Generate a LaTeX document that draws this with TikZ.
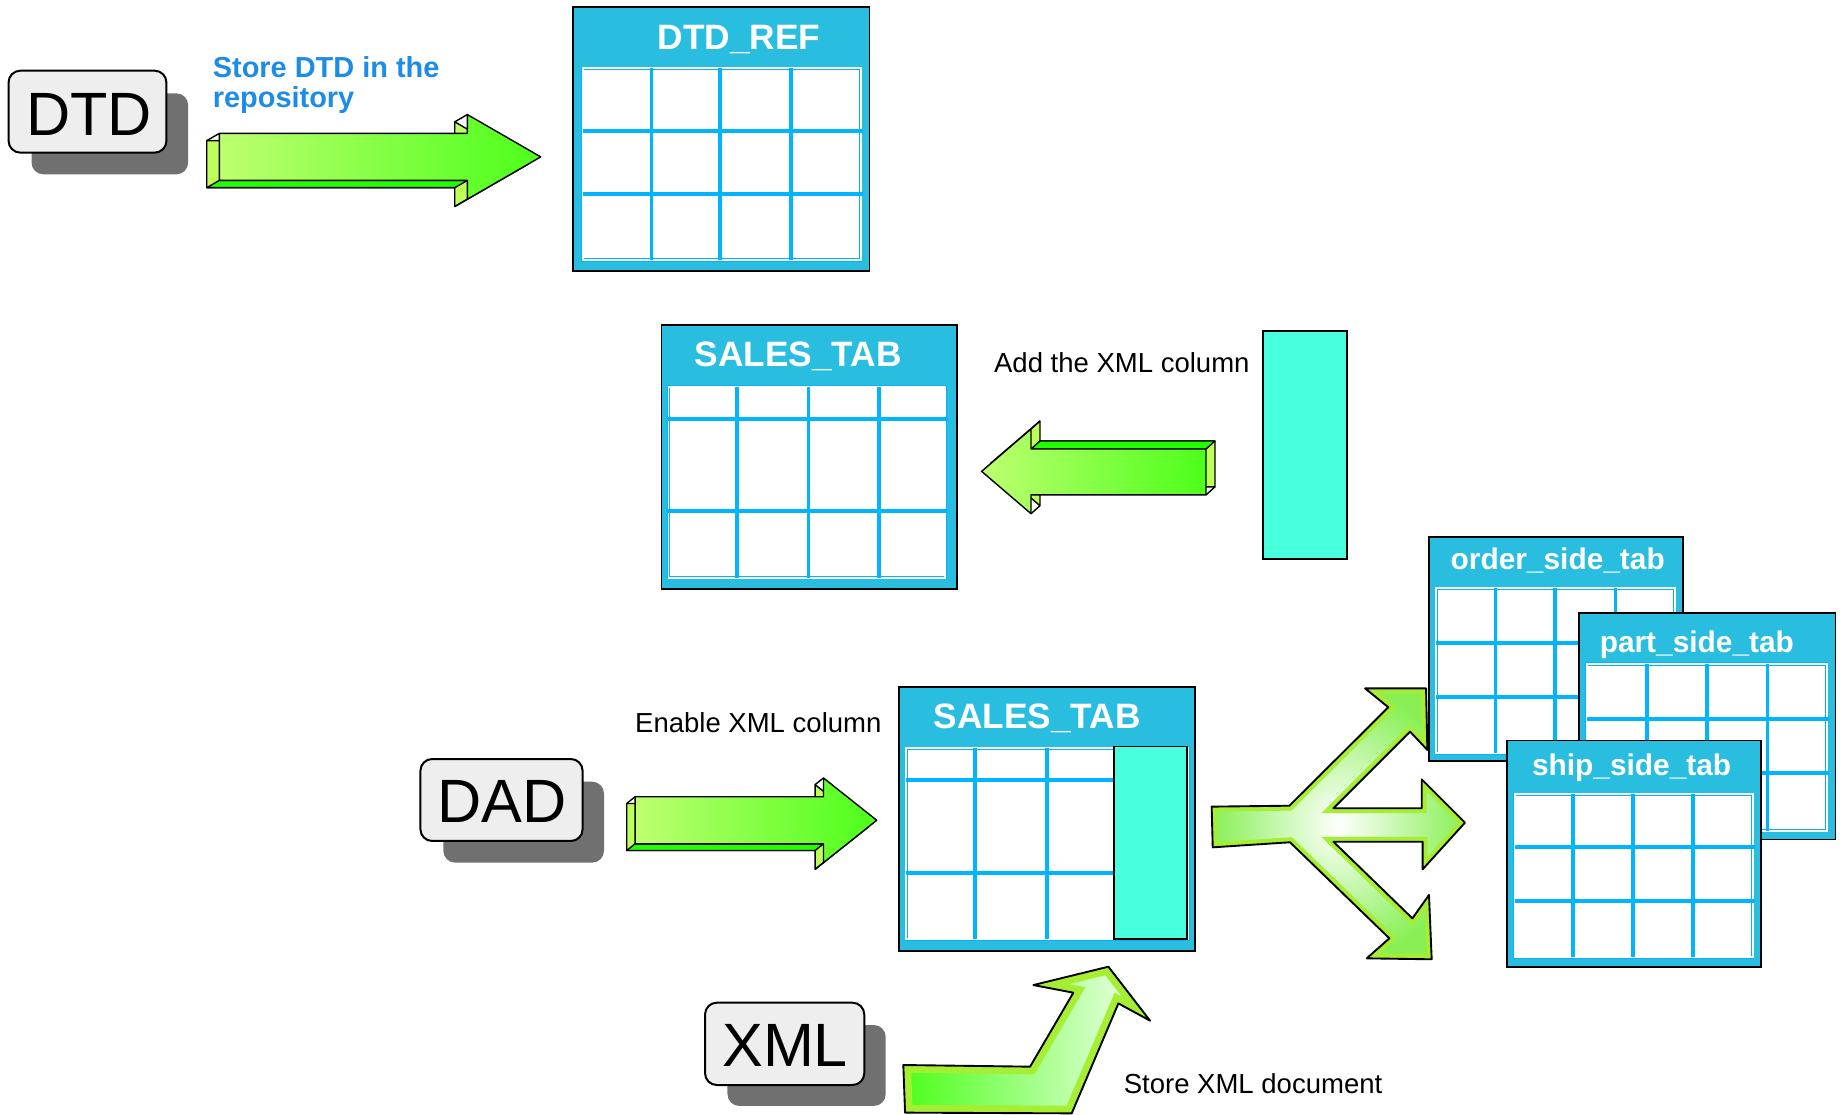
\documentclass[tikz,border=0pt]{standalone}
\usepackage{fontspec}
\setmainfont{Liberation Sans}
\usepackage{tikz}
\definecolor{tabcyan}{RGB}{41,189,224}
\definecolor{gridblue}{RGB}{0,180,255}
\definecolor{colteal}{RGB}{72,255,222}
\definecolor{boxgray}{RGB}{238,238,238}
\definecolor{shadowgray}{RGB}{112,112,112}
\definecolor{labelblue}{RGB}{28,140,230}
\definecolor{litegreen}{RGB}{190,255,112}
\definecolor{limegreen}{RGB}{76,255,26}
\definecolor{sidegreen}{RGB}{190,255,90}
\definecolor{brightgreen}{RGB}{34,255,0}
\definecolor{rimgreen}{RGB}{165,238,51}
\definecolor{splitgreen}{RGB}{136,240,85}
\definecolor{palegreen}{RGB}{242,255,238}
\def\rarrow#1#2{(0,0) -- (#1,0) -- (#1,-16) -- ({#1+#2},20) -- (#1,56) -- (#1,40) -- (0,40) -- cycle}
\def\larrow#1#2{(0,0) -- (-#1,0) -- (-#1,-17) -- ({-#1-#2},19) -- (-#1,55) -- (-#1,39) -- (0,39) -- cycle}
\def\splitarrow{(1030.3,685.9) -- (1096.4,685.1) -- (1180.5,601.4) -- (1160.7,585.3) -- (1212.6,585.3)
  -- (1213.7,637.7) -- (1199,622.1) -- (1133.8,687.3) -- (1208.9,687.3) -- (1208.9,662.7) -- (1245.7,699.5)
  -- (1209.7,739.2) -- (1209.7,715.7) -- (1133.8,715.7) -- (1201,780.9) -- (1215.1,761) -- (1217.4,815.7)
  -- (1162.1,814.9) -- (1181.4,797.9) -- (1096.9,716.2) -- (1031.2,720.5) -- cycle}
\def\bentarrow{(768.1,905.6) -- (875.9,907) -- (912.7,844.1) -- (878.7,837.6) -- (942.5,822)
  -- (977.9,867.9) -- (951,853.2) -- (911.3,946.7) -- (769.6,946.1) -- cycle}
% 3d block arrow: front path, depth dx dy, long face ends, visible corners
\newcommand\blockarrow[6]{%
  \filldraw[sideface, shift={(#2,#3)}] #1;
  \filldraw[longface] (#4) -- (#5) -- ([shift={(#2,#3)}]#5) -- ([shift={(#2,#3)}]#4) -- cycle;
  \foreach \c in {#6} {\draw[arrowline] (\c) -- ++(#2,#3);}
  \shade[left color=litegreen, right color=limegreen] #1;
  \draw[arrowline] #1;
}
\def\gline{\draw[gridline]}

\begin{document}
\begin{tikzpicture}[x=0.5pt,y=-0.5pt,
    arrowline/.style={draw=black, line width=0.6pt, line join=round},
    sideface/.style={arrowline, fill=sidegreen},
    longface/.style={arrowline, fill=brightgreen},
    tagshadow/.style={fill=shadowgray, rounded corners=5pt},
    tagbox/.style={fill=boxgray, draw=black, line width=0.85pt, rounded corners=5pt},
    tagtext/.style={inner sep=0, font=\fontsize{26}{30}\selectfont},
    tabframe/.style={fill=tabcyan, draw=black, line width=0.7pt},
    cellarea/.style={fill=white, draw=gridblue, line width=0.25pt, double=white, double distance=0.8pt},
    gridline/.style={draw=gridblue, line width=1.6pt},
    colbox/.style={fill=colteal, draw=black, line width=0.7pt},
    tabtitle/.style={inner sep=0, anchor=base west, text=white, font=\bfseries\fontsize{15}{18}\selectfont},
    sidetitle/.style={tabtitle, font=\bfseries\fontsize{12.7}{15}\selectfont},
    steplbl/.style={inner sep=0, anchor=base west, font=\fontsize{11.7}{14}\selectfont}]
\useasboundingbox (0,0) rectangle (1568,948);

% tags
\fill[tagshadow] (26.8,79.4) rectangle (160,148.2);
\filldraw[tagbox] (7.3,60.1) rectangle (141.5,129.8);
\node[tagtext] (dtd) at (75.6,97.1) {DTD};
\fill[tagshadow] (377,664.7) rectangle (513.6,733.5);
\filldraw[tagbox] (357.5,645.4) rectangle (495.4,715.1);
\node[tagtext] (dad) at (426.9,681.9) {DAD};
\fill[tagshadow] (618.6,871.6) rectangle (753.1,940.4);
\filldraw[tagbox] (599.5,852.6) rectangle (734.9,922.6);
\node[tagtext] (xml) at (667.6,889.3) {XML};

% block arrows
\begin{scope}[shift={(186.5,113.4)}]
  \blockarrow{\rarrow{210.9}{62.4}}{-10.7}{6.2}{0,40}{210.9,40}{{0,0},{210.9,-16},{210.9,56}}
\end{scope}
\begin{scope}[shift={(540,677.5)}]
  \blockarrow{\rarrow{160.2}{45.3}}{-7.1}{5.7}{0,40}{160.2,40}{{0,0},{160.2,-16},{160.2,56}}
\end{scope}
\begin{scope}[shift={(1025.5,381.8)}]
  \blockarrow{\larrow{148.8}{42}}{7.6}{-6.8}{0,0}{-148.8,0}{{0,39},{-148.8,-17},{-148.8,55}}
\end{scope}

% split arrow
\begin{scope}
  \clip \splitarrow;
  \shade[inner color=white, outer color=splitgreen] \splitarrow;
  \draw[line width=4.2pt, draw=rimgreen] \splitarrow;
\end{scope}
\draw[arrowline, line width=0.8pt] \splitarrow;

% bent arrow
\begin{scope}
  \clip \bentarrow;
  \shade[left color=limegreen, right color=palegreen] \bentarrow;
  \draw[line width=6.5pt, draw=rimgreen] \bentarrow;
\end{scope}
\draw[arrowline, line width=0.8pt] \bentarrow;

% DTD_REF
\filldraw[tabframe] (487,5.7) rectangle (739.4,230.2);
\filldraw[cellarea] (495.4,58.1) rectangle (732,221.1);
\gline (554,58.1) -- (554,221.1) (612.5,58.1) -- (612.5,221.1) (672.5,58.1) -- (672.5,221.1);
\gline (495.4,111.1) -- (734,111.1) (495.4,165.2) -- (734,165.2);
\node[tabtitle] (dtdref) at (558.8,42.5) {DTD\_REF};

% SALES_TAB
\filldraw[tabframe] (562.6,276.4) rectangle (813.6,500.6);
\filldraw[cellarea] (568.4,328.8) rectangle (803.9,491.2);
\gline (627,328.8) -- (627,491.2) (687.5,328.8) -- (687.5,491.2) (747.2,328.8) -- (747.2,491.2);
\gline (568.4,356.3) -- (806,356.3) (568.4,434.5) -- (806,434.5);
\node[tabtitle] (salestab) at (590.3,311.8) {SALES\_TAB};

% new column
\filldraw[colbox] (1074.1,281.2) rectangle (1145.5,475.1);

% SALES_TAB with column
\filldraw[tabframe] (764.4,583.9) rectangle (1016,808.4);
\filldraw[cellarea] (770.5,636.3) rectangle (1010.4,798.7);
\gline (829,636.3) -- (829,798.7) (890.2,636.3) -- (890.2,798.7);
\gline (770.5,663.2) -- (1010.4,663.2) (770.5,742) -- (1010.4,742);
\filldraw[colbox] (947.5,634.9) rectangle (1009.5,798.4);
\node[tabtitle] (salesxml) at (793.4,619.3) {SALES\_TAB};

% side tables
\filldraw[tabframe] (1215.1,456.4) rectangle (1431.2,646.9);
\filldraw[cellarea] (1221.3,500.3) rectangle (1424,640.6);
\gline (1271.7,500.3) -- (1271.7,640.6) (1322.4,500.3) -- (1322.4,640.6) (1373.6,500.3) -- (1373.6,640.6);
\gline (1221.3,546.5) -- (1426,546.5) (1221.3,592.4) -- (1426,592.4);
\node[sidetitle] (order) at (1233.1,483.9) {order\_side\_tab};

\filldraw[tabframe] (1342.6,521) rectangle (1560.8,713.7);
\filldraw[cellarea] (1349.1,564.6) rectangle (1553.3,706.4);
\gline (1400.6,564.6) -- (1400.6,706.4) (1451.7,564.6) -- (1451.7,706.4) (1502.9,564.6) -- (1502.9,706.4);
\gline (1349.1,611.4) -- (1555.3,611.4) (1349.1,657.6) -- (1555.3,657.6);
\node[sidetitle] (part) at (1359.9,555) {part\_side\_tab};

\filldraw[tabframe] (1281.4,629.6) rectangle (1497.5,822);
\filldraw[cellarea] (1287.9,675.2) rectangle (1490.3,814.1);
\gline (1337.6,675.2) -- (1337.6,814.1) (1388.7,675.2) -- (1388.7,814.1) (1439.8,675.2) -- (1439.8,814.1);
\gline (1287.9,720) -- (1492.3,720) (1287.9,765.9) -- (1492.3,765.9);
\node[sidetitle] (ship) at (1302.3,659) {ship\_side\_tab};

% labels
\node[steplbl, align=left, text=labelblue, font=\bfseries\fontsize{12.3}{12.75}\selectfont]
  (storedtd) at (180.6,91.3) {Store DTD in the\\repository};
\node[steplbl] (addcol) at (844.9,316.6) {Add the XML column};
\node[steplbl] (enable) at (539.7,622.7) {Enable XML column};
\node[steplbl] (storexml) at (955.2,929.7) {Store XML document};
\end{tikzpicture}
\end{document}
